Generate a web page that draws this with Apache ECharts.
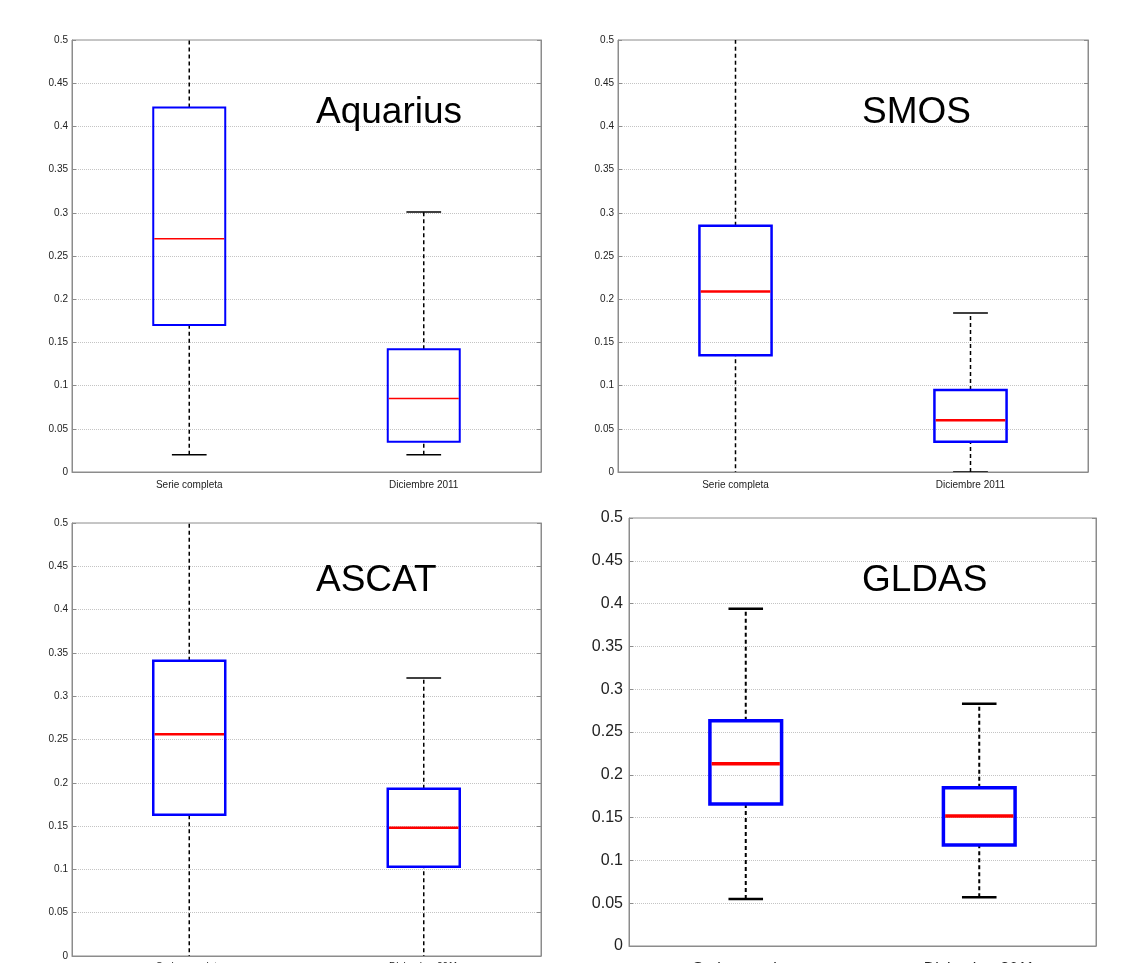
<!DOCTYPE html>
<html>
<head>
<meta charset="utf-8">
<script src="https://cdn.jsdelivr.net/npm/echarts@6/dist/echarts.min.js"></script>
<style>
  html, body { margin: 0; padding: 0; background: #fff; }
  #chart { width: 1124px; height: 963px; }
</style>
</head>
<body>
<div id="chart"></div>
<script>
// categorias del eje x
const categories = ['Serie completa', 'Diciembre 2011']
const panelNames = ['Aquarius', 'SMOS', 'ASCAT', 'GLDAS']
// eje y
const yMin = 0
const yMax = 0.5
const yStep = 0.05

// [min, q1, mediana, q3, max] -- valores fuera de 0..0.5 salen del grafico
const aquarius = [[0.02, 0.17, 0.27, 0.422, 0.55], [0.02, 0.035, 0.085, 0.142, 0.301]]
const smos = [[-0.02, 0.135, 0.209, 0.285, 0.55], [0.0, 0.035, 0.06, 0.095, 0.184]]
const ascat = [[-0.02, 0.163, 0.256, 0.341, 0.55], [-0.02, 0.103, 0.148, 0.193, 0.321]]
const gldas = [[0.055, 0.166, 0.213, 0.263, 0.394], [0.057, 0.118, 0.152, 0.185, 0.283]]

const panelData = [aquarius, smos, ascat, gldas]

// layout de cada panel
const panels = [
  { grid: { left: 72, top: 40, width: 469, height: 432 }, title: { left: 316, top: 94 }, font: 10, labelMargin: 8, box: 2, med: 1.5, whisker: 1.5, cap: 1.5 },
  { grid: { left: 618, top: 40, width: 470, height: 432 }, title: { left: 862, top: 94 }, font: 10, labelMargin: 8, box: 2.5, med: 2.5, whisker: 1.5, cap: 1.5 },
  { grid: { left: 72, top: 523, width: 469, height: 433 }, title: { left: 316, top: 562 }, font: 10, labelMargin: 6, box: 2.5, med: 2.5, whisker: 1.5, cap: 1.5 },
  { grid: { left: 629, top: 518, width: 467, height: 428 }, title: { left: 862, top: 562 }, font: 16, labelMargin: 16, box: 3.5, med: 3.5, whisker: 2, cap: 2.5 }
]

const FONT = '"Liberation Sans", Arial, Helvetica, sans-serif'

function makeRender (p) {
  return function (params, api) {
    const x = api.value(0)
    const low = api.coord([x, api.value(1)])
    const q1 = api.coord([x, api.value(2)])
    const med = api.coord([x, api.value(3)])
    const q3 = api.coord([x, api.value(4)])
    const high = api.coord([x, api.value(5)])
    const band = api.size([1, 0])[0]
    const bw = band * 0.307
    const cw = band * 0.148
    const cx = low[0]
    const whiskerStyle = { stroke: '#000', lineWidth: p.whisker, lineDash: [4, 3], fill: null }
    const capStyle = { stroke: '#000', lineWidth: p.cap }
    return {
      type: 'group',
      children: [
        { type: 'line', shape: { x1: cx, y1: low[1], x2: cx, y2: q1[1] }, style: whiskerStyle },
        { type: 'line', shape: { x1: cx, y1: q3[1], x2: cx, y2: high[1] }, style: whiskerStyle },
        { type: 'line', shape: { x1: cx - cw / 2, y1: low[1], x2: cx + cw / 2, y2: low[1] }, style: capStyle },
        { type: 'line', shape: { x1: cx - cw / 2, y1: high[1], x2: cx + cw / 2, y2: high[1] }, style: capStyle },
        { type: 'rect', shape: { x: cx - bw / 2, y: q3[1], width: bw, height: q1[1] - q3[1] }, style: { fill: null, stroke: '#0000ff', lineWidth: p.box } },
        { type: 'line', shape: { x1: cx - bw / 2 + p.box / 2, y1: med[1], x2: cx + bw / 2 - p.box / 2, y2: med[1] }, style: { stroke: '#ff0000', lineWidth: p.med } }
      ]
    }
  }
}

const option = {
  animation: false,
  backgroundColor: '#fff',
  title: [],
  grid: [],
  xAxis: [],
  yAxis: [],
  series: []
}

panels.forEach(function (p, i) {
  option.title.push({
    text: panelNames[i],
    left: p.title.left,
    top: p.title.top,
    padding: 0,
    textStyle: { fontFamily: FONT, fontSize: 37, fontWeight: 'normal', color: '#000' }
  })
  option.grid.push(Object.assign({
    show: true,
    borderColor: '#8c8c8c',
    borderWidth: 1,
    backgroundColor: '#fff',
    containLabel: false,
    outerBoundsMode: 'none'
  }, p.grid))
  option.xAxis.push({
    type: 'category',
    gridIndex: i,
    data: categories,
    axisLine: { show: true, lineStyle: { color: '#8c8c8c' } },
    axisTick: { show: false },
    splitLine: { show: false },
    axisLabel: { color: '#222', fontFamily: FONT, fontSize: p.font, margin: p.labelMargin }
  })
  // eje izquierdo con etiquetas
  option.yAxis.push({
    type: 'value',
    gridIndex: i,
    min: yMin,
    max: yMax,
    interval: yStep,
    axisLine: { show: true, lineStyle: { color: '#8c8c8c' } },
    axisTick: { show: true, inside: true, length: 4, lineStyle: { color: '#8c8c8c' } },
    axisLabel: { color: '#222', fontFamily: FONT, fontSize: p.font, margin: i === 3 ? 6 : 4 },
    splitLine: { show: true, lineStyle: { color: '#c4c4c4', type: 'dotted', width: 1 } }
  })
  // eje derecho solo para las marcas
  option.yAxis.push({
    type: 'value',
    gridIndex: i,
    position: 'right',
    min: yMin,
    max: yMax,
    interval: yStep,
    axisLine: { show: true, lineStyle: { color: '#8c8c8c' } },
    axisTick: { show: true, inside: true, length: 4, lineStyle: { color: '#8c8c8c' } },
    axisLabel: { show: false },
    splitLine: { show: false }
  })
  option.series.push({
    type: 'custom',
    name: panelNames[i],
    xAxisIndex: i,
    yAxisIndex: i * 2,
    clip: true,
    renderItem: makeRender(p),
    encode: { x: 0, y: [1, 2, 3, 4, 5] },
    data: panelData[i].map(function (d, k) { return [k].concat(d) })
  })
})

const chart = echarts.init(document.getElementById('chart'))
chart.setOption(option)
</script>
</body>
</html>
